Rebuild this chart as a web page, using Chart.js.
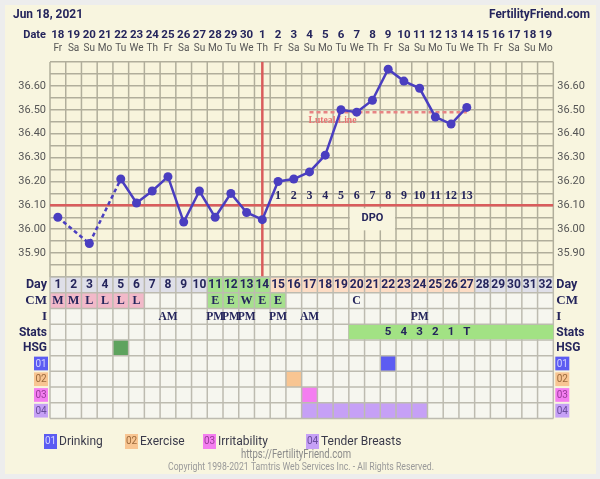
<!DOCTYPE html>
<html>
<head>
<meta charset="utf-8">
<script src="https://cdn.jsdelivr.net/npm/chart.js@4.4.1/dist/chart.umd.min.js"></script>
<style>
  html, body { margin: 0; padding: 0; background: #ededed; }
  canvas { display: block; }
</style>
</head>
<body>
<canvas id="myChart" width="600" height="479"></canvas>
<script>
  // one entry per cycle day (1..32)
  const dates = [18,19,20,21,22,23,24,25,26,27,28,29,30,1,2,3,4,5,6,7,8,9,10,11,12,13,14,15,16,17,18,19];
  const weekdays = ['Fr','Sa','Su','Mo','Tu','We','Th','Fr','Sa','Su','Mo','Tu','We','Th','Fr','Sa',
                    'Su','Mo','Tu','We','Th','Fr','Sa','Su','Mo','Tu','We','Th','Fr','Sa','Su','Mo'];
  const temps = [36.05, null, 35.94, null, 36.21, 36.11, 36.16, 36.22, 36.03, 36.16, 36.05, 36.15, 36.07, 36.04,
                 36.20, 36.21, 36.24, 36.31, 36.50, 36.49, 36.54, 36.67, 36.62, 36.59, 36.47, 36.44, 36.51,
                 null, null, null, null, null];
  const dpo = [null,null,null,null,null,null,null,null,null,null,null,null,null,null,
               1,2,3,4,5,6,7,8,9,10,11,12,13,null,null,null,null,null];
  const phase = ['g','g','g','g','g','g','g','g','g','g','f','f','f','f',
                 'l','l','l','l','l','l','l','l','l','l','l','l','l','g','g','g','g','g'];
  const cm = ['M','M','L','L','L','L','','','','','E','E','W','E','E','','','','','C','','','','','','','','','','','',''];
  const intercourse = ['','','','','','','','AM','','','PM','PM','PM','','PM','','AM','','','','','','','PM','','','','','','','',''];
  const stats = [null,null,null,null,null,null,null,null,null,null,null,null,null,null,null,null,null,null,null,
                 '','','5','4','3','2','1','T','','','','',''];
  const hsgDays = [5];
  const drinkingDays = [22];
  const exerciseDays = [16];
  const irritabilityDays = [17];
  const tenderDays = [17,18,19,20,21,22,23,24];
  const yLabels = ['36.60','36.50','36.40','36.30','36.20','36.10','36.00','35.90'];
  const coverline = 36.10;
  const lutealLevel = 36.49;
  const lutealRange = [17, 27];
  const ovulationDay = 14;

  const navy = '#25255c';
  const gridCol = '#b1ae9b';

  const symptoms = [
    { code: '01', name: 'Drinking', days: drinkingDays, fill: '#5c5cf2', text: '#d4d4ff' },
    { code: '02', name: 'Exercise', days: exerciseDays, fill: '#f8c592', text: '#9c6a3c' },
    { code: '03', name: 'Irritability', days: irritabilityDays, fill: '#f47ef0', text: '#9a3c9a' },
    { code: '04', name: 'Tender Breasts', days: tenderDays, fill: '#c6a0f6', text: '#6a4c9c' }
  ];

  function yTick(v) {
    const c = Math.round(v * 100);
    const s = (c / 100).toFixed(2);
    return yLabels.includes(s) && c % 10 === 0 ? s : '';
  }

  function txt(c, s, x, y, font, color, align, maxW) {
    c.font = font;
    c.fillStyle = color;
    c.textAlign = align || 'center';
    c.textBaseline = 'middle';
    if (maxW) c.fillText(s, x, y, maxW); else c.fillText(s, x, y);
  }

  const fertilityPlugin = {
    id: 'fertility',
    beforeDraw(chart) {
      const c = chart.ctx, a = chart.chartArea;
      c.save();
      c.fillStyle = '#ededed';
      c.fillRect(0, 0, chart.width, chart.height);
      c.fillStyle = '#f8f5df';
      c.fillRect(5, 5, 591, 469);
      c.fillStyle = '#f8f4dc';
      c.fillRect(a.left, a.top, a.right - a.left, a.bottom - a.top);
      c.restore();
    },
    beforeDatasetsDraw(chart) {
      const c = chart.ctx, a = chart.chartArea, xs = chart.scales.x, ys = chart.scales.y;
      c.save();
      c.strokeStyle = gridCol;
      c.lineWidth = 1.5;
      for (let i = 0; i <= dates.length; i++) {
        const x = xs.getPixelForValue(i + 0.5);
        c.beginPath(); c.moveTo(x, a.top); c.lineTo(x, a.bottom); c.stroke();
      }
      // DPO label box
      const cy = ys.getPixelForValue(coverline);
      const bx0 = xs.getPixelForValue(19.5), bx1 = xs.getPixelForValue(22.5);
      c.fillStyle = '#f8f5df';
      c.fillRect(bx0 + 1, cy + 3, bx1 - bx0 - 2, 22);
      txt(c, 'DPO', xs.getPixelForValue(21), cy + 13, 'bold 11px Roboto', navy);
      // DPO numbers
      dpo.forEach((d, i) => {
        if (d === null) return;
        txt(c, String(d), xs.getPixelForValue(i + 1), cy - 9, 'bold 12px "Liberation Serif"', navy, 'center', 15);
      });
      // luteal label
      txt(c, 'Luteal Line', xs.getPixelForValue(lutealRange[0]) - 1, ys.getPixelForValue(lutealLevel) + 8,
        'bold 10px "Liberation Serif"', '#e87474', 'left', 48);
      c.restore();
    },
    afterDraw(chart) {
      const c = chart.ctx, a = chart.chartArea, xs = chart.scales.x;
      const cx = d => xs.getPixelForValue(d);
      const w = cx(1.5) - cx(0.5);
      const top = a.bottom;
      const rowY = r => top + r * w;
      c.save();

      // header
      txt(c, 'Jun 18, 2021', 13, 15, 'bold 13.5px Roboto', navy, 'left', 70);
      txt(c, 'FertilityFriend.com', 590, 15, 'bold 13.5px Roboto', navy, 'right', 101);
      txt(c, 'Date', 46, 35, 'bold 11px Roboto', navy, 'right');
      dates.forEach((d, i) => {
        txt(c, String(d), cx(i + 1), 35, 'bold 11.5px Roboto', navy, 'center', 14);
        txt(c, weekdays[i], cx(i + 1), 48, '10px Roboto', '#555', 'center', 15);
      });

      // table background
      const nRows = 9;
      c.fillStyle = '#f6f6ef';
      c.fillRect(a.left, top, a.right - a.left, nRows * w);

      const cell = (day, row, color) => {
        c.fillStyle = color;
        c.fillRect(cx(day - 0.5), rowY(row), w, w);
      };
      // day row
      phase.forEach((p, i) => {
        cell(i + 1, 0, p === 'f' ? '#a6e08e' : p === 'l' ? '#fcdcc4' : '#dfdfe8');
      });
      // CM row
      cm.forEach((m, i) => {
        if (m === 'M' || m === 'L') cell(i + 1, 1, '#f2b9c9');
        if (m === 'E' || m === 'W') cell(i + 1, 1, '#a6e08e');
      });
      hsgDays.forEach(d => cell(d, 4, '#5ea35e'));
      symptoms.forEach((s, k) => s.days.forEach(d => cell(d, 5 + k, s.fill)));

      // table grid
      c.strokeStyle = '#bdbbb0';
      c.lineWidth = 1.5;
      for (let i = 0; i <= dates.length; i++) {
        const x = cx(i + 0.5);
        c.beginPath(); c.moveTo(x, top); c.lineTo(x, rowY(nRows)); c.stroke();
      }
      for (let r = 0; r <= nRows; r++) {
        c.beginPath(); c.moveTo(a.left, rowY(r)); c.lineTo(a.right, rowY(r)); c.stroke();
      }

      // stats bar (continuous)
      const s0 = stats.findIndex(v => v !== null) + 1;
      c.fillStyle = '#a2e284';
      c.fillRect(cx(s0 - 0.5), rowY(3) + 0.75, cx(stats.length + 0.5) - cx(s0 - 0.5), w - 1.5);

      // texts
      phase.forEach((p, i) => txt(c, String(i + 1), cx(i + 1), rowY(0) + w / 2 + 0.5, 'bold 12px Roboto', navy, 'center', w - 1));
      cm.forEach((m, i) => { if (m) txt(c, m, cx(i + 1), rowY(1) + w / 2 + 0.5, 'bold 12px "Liberation Serif"', navy); });
      intercourse.forEach((t, i) => { if (t) txt(c, t, cx(i + 1), rowY(2) + w / 2 + 0.5, 'bold 11.5px "Liberation Serif"', navy); });
      stats.forEach((t, i) => { if (t) txt(c, t, cx(i + 1), rowY(3) + w / 2 + 0.5, 'bold 11.5px Roboto', navy); });

      // row labels
      const rowNames = [
        ['Day', 'bold 12.5px Roboto'], ['CM', 'bold 13px "Liberation Serif"'], ['I', 'bold 13px "Liberation Serif"'],
        ['Stats', 'bold 12px Roboto'], ['HSG', 'bold 12px Roboto']
      ];
      rowNames.forEach((n, r) => {
        const y = rowY(r) + w / 2 + 0.5;
        txt(c, n[0], a.left - 3, y, n[1], navy, 'right', 30);
        txt(c, n[0], a.right + 3, y, n[1], navy, 'left', 30);
      });
      symptoms.forEach((s, k) => {
        const y = rowY(5 + k);
        [a.left - 16, a.right + 2].forEach(x => {
          c.fillStyle = s.fill;
          c.fillRect(x, y + 1, 14, w - 2);
          txt(c, s.code, x + 7, y + w / 2 + 0.5, '10px Roboto', s.text);
        });
      });

      // bottom legend
      const legendX = [44, 125, 203, 306];
      symptoms.forEach((s, k) => {
        const x = legendX[k];
        c.fillStyle = s.fill;
        c.fillRect(x, 434, 13, 15);
        txt(c, s.code, x + 6.5, 441.5, '10px Roboto', s.text);
        txt(c, s.name, x + 15, 441.5, '12px Roboto', '#3a3a4a', 'left');
      });
      txt(c, 'https://FertilityFriend.com', 296, 455, '12px Roboto', '#8a8a8a', 'center', 110);
      txt(c, 'Copyright 1998-2021 Tamtris Web Services Inc. - All Rights Reserved.', 301, 467, '10px Roboto', '#9a9a9a', 'center', 266);
      c.restore();
    }
  };

  const tickFont = { family: 'Roboto', size: 11 };
  const data = {
    datasets: [
      {
        label: 'Temperature',
        data: temps.map((t, i) => ({ x: i + 1, y: t })),
        borderColor: '#4a3ec0',
        backgroundColor: '#4a3ec0',
        borderWidth: 2.5,
        pointRadius: 4.5,
        pointBorderWidth: 0,
        spanGaps: true,
        tension: 0,
        segment: {
          borderDash: ctx => (ctx.p0.skip || ctx.p1.skip) ? [4, 3] : undefined
        }
      },
      {
        label: 'Luteal Line',
        data: [{ x: lutealRange[0], y: lutealLevel }, { x: lutealRange[1], y: lutealLevel }],
        borderColor: '#e88484',
        borderWidth: 2.5,
        borderDash: [4, 3],
        pointRadius: 0
      },
      {
        label: 'Coverline',
        data: [{ x: 0.5, y: coverline }, { x: dates.length + 0.5, y: coverline }],
        borderColor: '#d95c5c',
        borderWidth: 2.5,
        pointRadius: 0
      },
      {
        label: 'Ovulation',
        data: [{ x: ovulationDay, y: 35.8 }, { x: ovulationDay, y: 36.72 }],
        borderColor: '#d95c5c',
        borderWidth: 2.5,
        pointRadius: 0
      }
    ]
  };

  const config = {
    type: 'line',
    data: data,
    options: {
      responsive: false,
      animation: false,
      layout: { padding: { top: 62, bottom: 202, left: 0, right: 0 } },
      plugins: { legend: { display: false }, tooltip: { enabled: false } },
      scales: {
        x: { type: 'linear', min: 0.5, max: dates.length + 0.5, display: false },
        y: {
          type: 'linear', position: 'left', min: 35.8, max: 36.7,
          afterFit: s => { s.width = 50; },
          ticks: { stepSize: 0.05, autoSkip: false, callback: yTick, color: '#555', font: tickFont, padding: 4 },
          grid: { color: gridCol, lineWidth: 1.5, drawTicks: false },
          border: { display: false }
        },
        y2: {
          type: 'linear', position: 'right', min: 35.8, max: 36.7,
          afterFit: s => { s.width = 46.7; },
          ticks: { stepSize: 0.05, autoSkip: false, callback: yTick, color: '#555', font: tickFont, padding: 4 },
          grid: { display: false, drawTicks: false },
          border: { display: false }
        }
      }
    },
    plugins: [fertilityPlugin]
  };

  const myChart = new Chart(document.getElementById('myChart'), config);
</script>
</body>
</html>
